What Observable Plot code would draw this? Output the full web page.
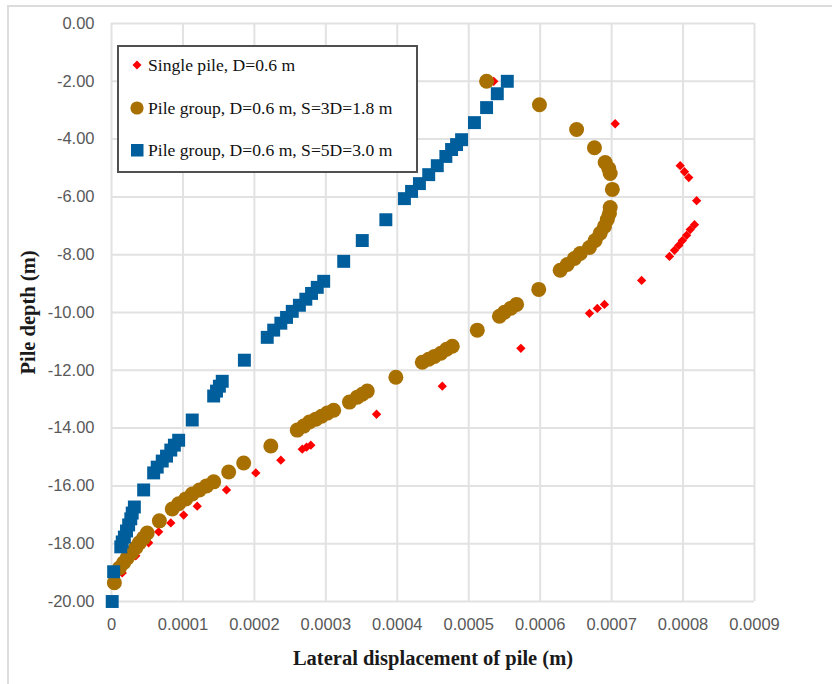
<!DOCTYPE html>
<html>
<head>
<meta charset="utf-8">
<script src="https://cdn.jsdelivr.net/npm/d3@7"></script>
<script src="https://cdn.jsdelivr.net/npm/@observablehq/plot@0.6"></script>
<style>
  html, body { margin: 0; padding: 0; background: #fff; }
  #wrap { position: relative; width: 832px; height: 684px; overflow: hidden; }
  #outer { position: absolute; left: 7px; top: 5px; width: 900px; height: 900px;
           border-left: 2px solid #dcdcdc; border-top: 2px solid #dcdcdc; pointer-events: none; }
  #legend { position: absolute; left: 117px; top: 45px; width: 297px; height: 124px;
            border: 2px solid #505050; background: #fff;
            font-family: "Liberation Serif", "Times New Roman", serif; font-size: 17.6px; color: #111; }
  .row { position: absolute; left: 0; height: 22px; width: 297px; }
  .row svg { position: absolute; left: 10px; top: 2px; }
  .row span { position: absolute; left: 29px; top: 0px; white-space: nowrap; }
</style>
</head>
<body>
<div id="wrap"><div id="chart"></div><div id="outer"></div><div id="legend"></div></div>
<script>
// Series names and colours
const seriesNames = ["Single pile, D=0.6 m", "Pile group, D=0.6 m, S=3D=1.8 m", "Pile group, D=0.6 m, S=5D=3.0 m"];
const seriesColors = ["#FF0000", "#A87000", "#005E9C"];

// Single pile: lateral displacement (m) and depth (m)
const singleDisp = [0.000535, 0.000705, 0.000796, 0.000802, 0.000808, 0.000819, 0.000816, 0.000810, 0.000805, 0.000799, 0.000794, 0.000788, 0.000781, 0.000742, 0.000690, 0.000680, 0.000669, 0.000573, 0.000463, 0.000371, 0.000279, 0.000273, 0.000267, 0.000237, 0.000202, 0.000161, 0.000120, 0.000101, 0.000083, 0.000066, 0.000052, 0.000034, 0.000015, 0.000000];
const singleDepth = [-2.00, -3.47, -4.92, -5.13, -5.33, -6.13, -6.96, -7.13, -7.33, -7.51, -7.68, -7.85, -8.06, -8.89, -9.72, -9.86, -10.03, -11.24, -12.55, -13.52, -14.59, -14.66, -14.73, -15.11, -15.55, -16.14, -16.70, -17.01, -17.28, -17.59, -17.97, -18.42, -19.01, -20.00];

// Pile group S=3D
const g3Disp = [0.000525, 0.000599, 0.000651, 0.000676, 0.000691, 0.000696, 0.000698, 0.000701, 0.000698, 0.000697, 0.000694, 0.000690, 0.000684, 0.000677, 0.000669, 0.000656, 0.000648, 0.000638, 0.000628, 0.000598, 0.000567, 0.000559, 0.000550, 0.000543, 0.000512, 0.000477, 0.000469, 0.000461, 0.000452, 0.000444, 0.000435, 0.000398, 0.000358, 0.000351, 0.000344, 0.000333, 0.000311, 0.000302, 0.000294, 0.000286, 0.000277, 0.000269, 0.000260, 0.000223, 0.000185, 0.000164, 0.000143, 0.000133, 0.000123, 0.000113, 0.000104, 0.000094, 0.000085, 0.000067, 0.000050, 0.000045, 0.000039, 0.000034, 0.000028, 0.000022, 0.000017, 0.000011, 0.000004];
const g3Depth = [-2.00, -2.81, -3.67, -4.30, -4.81, -5.02, -5.19, -5.74, -6.37, -6.57, -6.78, -7.02, -7.26, -7.51, -7.75, -7.96, -8.13, -8.34, -8.54, -9.20, -9.72, -9.85, -9.99, -10.13, -10.61, -11.17, -11.27, -11.41, -11.52, -11.62, -11.72, -12.24, -12.72, -12.83, -12.93, -13.10, -13.38, -13.48, -13.59, -13.69, -13.79, -13.93, -14.07, -14.62, -15.21, -15.52, -15.86, -16.00, -16.14, -16.28, -16.45, -16.62, -16.80, -17.21, -17.63, -17.80, -17.97, -18.14, -18.32, -18.49, -18.66, -18.84, -19.35];

// Pile group S=5D
const g5Disp = [0.000554, 0.000540, 0.000525, 0.000508, 0.000490, 0.000483, 0.000476, 0.000468, 0.000456, 0.000444, 0.000431, 0.000420, 0.000410, 0.000384, 0.000351, 0.000325, 0.000297, 0.000288, 0.000280, 0.000272, 0.000263, 0.000253, 0.000245, 0.000237, 0.000227, 0.000218, 0.000186, 0.000155, 0.000151, 0.000147, 0.000143, 0.000113, 0.000094, 0.000088, 0.000083, 0.000077, 0.000071, 0.000064, 0.000059, 0.000045, 0.000032, 0.000029, 0.000027, 0.000024, 0.000021, 0.000018, 0.000015, 0.000013, 0.000003, 0.000001];
const g5Depth = [-2.00, -2.43, -2.91, -3.43, -4.02, -4.19, -4.36, -4.60, -4.92, -5.23, -5.54, -5.81, -6.06, -6.79, -7.51, -8.23, -8.92, -9.13, -9.34, -9.54, -9.75, -9.96, -10.17, -10.37, -10.61, -10.86, -11.65, -12.38, -12.55, -12.72, -12.89, -13.72, -14.42, -14.59, -14.76, -14.97, -15.14, -15.35, -15.55, -16.14, -16.73, -16.94, -17.14, -17.35, -17.56, -17.77, -17.94, -18.11, -18.97, -20.00];

// Axis ticks and labels
const xTicks = [0, 0.0001, 0.0002, 0.0003, 0.0004, 0.0005, 0.0006, 0.0007, 0.0008, 0.0009];
const xTickLabels = ["0", "0.0001", "0.0002", "0.0003", "0.0004", "0.0005", "0.0006", "0.0007", "0.0008", "0.0009"];
const yTicks = [0, -2, -4, -6, -8, -10, -12, -14, -16, -18, -20];
const yTickLabels = ["0.00", "-2.00", "-4.00", "-6.00", "-8.00", "-10.00", "-12.00", "-14.00", "-16.00", "-18.00", "-20.00"];
const xTitle = "Lateral displacement of pile (m)";
const yTitle = "Pile depth (m)";

const toRows = (xs, ys) => xs.map((x, i) => ({x, y: ys[i]}));
const single = toRows(singleDisp, singleDepth);
const g3 = toRows(g3Disp, g3Depth);
const g5 = toRows(g5Disp, g5Depth);

const tickFont = '"Liberation Sans", Arial, sans-serif';
const titleFont = '"Liberation Serif", "Times New Roman", serif';

const chart = Plot.plot({
  width: 832,
  height: 684,
  marginLeft: 111,
  marginRight: 78,
  marginTop: 23,
  marginBottom: 83,
  style: {background: "#fff", fontFamily: tickFont, color: "#595959", overflow: "visible"},
  x: {domain: [0, 0.0009]},
  y: {domain: [-20, 0]},
  marks: [
    Plot.ruleX(xTicks, {stroke: "#e2e2e2", strokeWidth: 2}),
    Plot.ruleY(yTicks, {stroke: "#e2e2e2", strokeWidth: 2}),
    Plot.axisX({ticks: xTicks, tickSize: 0, tickPadding: 17, fontSize: 16.5,
      tickFormat: d => xTickLabels[xTicks.indexOf(d)], label: null}),
    Plot.axisY({ticks: yTicks, tickSize: 0, tickPadding: 17, fontSize: 16.5,
      tickFormat: d => yTickLabels[yTicks.indexOf(d)], label: null}),
    Plot.dot(single, {x: "x", y: "y", symbol: "diamond2", r: 4.2, fill: seriesColors[0], stroke: null}),
    Plot.dot(g3, {x: "x", y: "y", symbol: "circle", r: 7.5, fill: seriesColors[1], stroke: null}),
    Plot.dot(g5, {x: "x", y: "y", symbol: "square", r: 7.3, fill: seriesColors[2], stroke: null}),
    Plot.text([xTitle], {frameAnchor: "bottom", dy: 63, fontSize: 20.5, fontWeight: "bold",
      textAnchor: "middle", fontFamily: titleFont, fill: "#1a1a1a"}),
    Plot.text([yTitle], {frameAnchor: "left", dx: -83, rotate: -90, fontSize: 20.5, fontWeight: "bold",
      textAnchor: "middle", fontFamily: titleFont, fill: "#1a1a1a"})
  ]
});
document.getElementById("chart").appendChild(chart);

// Legend (HTML overlay inside plot area)
const legend = document.getElementById("legend");
const rowTops = [8, 51, 93];
const markerSvgs = [
  c => `<svg width="16" height="16"><path d="M8 3.5 L12.5 8 L8 12.5 L3.5 8 Z" fill="${c}"/></svg>`,
  c => `<svg width="16" height="16"><circle cx="8" cy="8" r="6.6" fill="${c}"/></svg>`,
  c => `<svg width="16" height="16"><rect x="2" y="2" width="12.5" height="12.5" fill="${c}"/></svg>`
];
seriesNames.forEach((name, i) => {
  const row = document.createElement("div");
  row.className = "row";
  row.style.top = rowTops[i] + "px";
  row.innerHTML = markerSvgs[i](seriesColors[i]) + `<span>${name}</span>`;
  legend.appendChild(row);
});
</script>
</body>
</html>
